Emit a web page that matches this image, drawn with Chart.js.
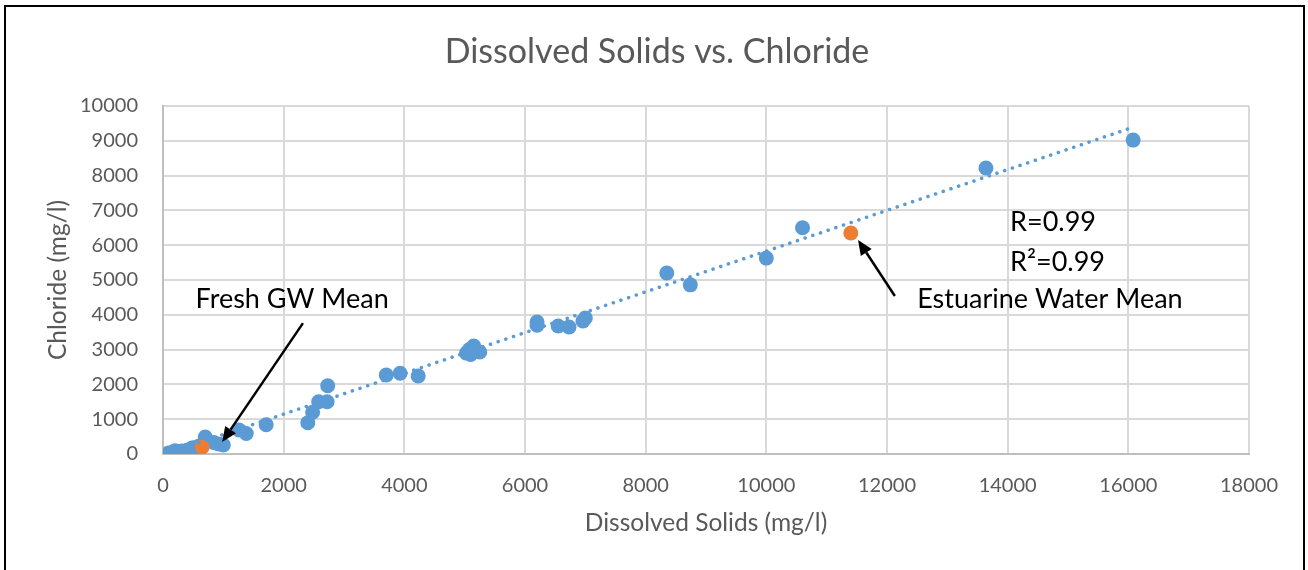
<!DOCTYPE html>
<html>
<head>
<meta charset="utf-8">
<script src="https://cdn.jsdelivr.net/npm/chart.js@4"></script>
<style>
  html, body { margin: 0; padding: 0; background: #fff; overflow: hidden; }
  #wrap { position: relative; width: 1308px; height: 570px; }
  #frame { position: absolute; left: 4px; top: 5px; width: 1297px; height: 600px; border: 2px solid #000; pointer-events: none; }
</style>
</head>
<body>
<div id="wrap">
  <canvas id="chart"></canvas>
  <div id="frame"></div>
</div>
<script>
// ─── Data (mg/l) ───────────────────────────────────
const tdsSamples = [90, 150, 200, 230, 310, 350, 400, 470, 480, 520, 560, 600, 700, 840, 920, 1000,
  1260, 1380, 1710, 2400, 2480, 2580, 2720, 2730, 3700, 3930, 4230,
  5030, 5080, 5150, 5250, 5100, 6200, 6200, 6550, 6730, 6960, 7000,
  8350, 8740, 10000, 10600, 13640, 16080];
const clSamples = [30, 45, 90, 60, 85, 50, 110, 40, 170, 180, 120, 230, 490, 330, 290, 260,
  690, 590, 840, 900, 1200, 1500, 1500, 1960, 2270, 2320, 2240,
  2900, 3000, 3100, 2930, 2860, 3790, 3700, 3680, 3650, 3820, 3910,
  5200, 4860, 5630, 6500, 8220, 9020];

const tdsMeans = [650, 11400];     // Fresh GW mean, Estuarine water mean
const clMeans = [200, 6350];

const trendX = [85, 16080];
const trendY = [25, 9390];

const X_TICKS = [0, 2000, 4000, 6000, 8000, 10000, 12000, 14000, 16000, 18000];
const Y_TICKS = [0, 1000, 2000, 3000, 4000, 5000, 6000, 7000, 8000, 9000, 10000];

const TITLE = 'Dissolved Solids vs. Chloride';
const BLUE = '#5b9bd5';
const ORANGE = '#ed7d31';
const GREY = '#595959';
const FONT = 'Lato';

const toPts = (xs, ys) => xs.map((x, i) => ({ x, y: ys[i] }));

// ─── Annotations (positions in data units) ─────────
const notes = [
  { text: 'Fresh GW Mean', x: 2140, y: 4450, align: 'center' },
  { text: 'Estuarine Water Mean', x: 14700, y: 4450, align: 'center' },
  { text: 'R=0.99', x: 14040, y: 6670, align: 'left' },
  { text: 'R²=0.99', x: 14040, y: 5520, align: 'left' }
];
const arrows = [
  { from: [2320, 3760], to: [980, 345] },
  { from: [12130, 4540], to: [11520, 6150] }
];

function drawArrow(ctx, x1, y1, x2, y2) {
  const ang = Math.atan2(y2 - y1, x2 - x1);
  const head = 15, half = 6.5;
  const bx = x2 - head * Math.cos(ang), by = y2 - head * Math.sin(ang);
  ctx.beginPath();
  ctx.moveTo(x1, y1);
  ctx.lineTo(bx, by);
  ctx.lineWidth = 2.5;
  ctx.strokeStyle = '#000';
  ctx.stroke();
  ctx.beginPath();
  ctx.moveTo(x2, y2);
  ctx.lineTo(bx + half * Math.sin(ang), by - half * Math.cos(ang));
  ctx.lineTo(bx - half * Math.sin(ang), by + half * Math.cos(ang));
  ctx.closePath();
  ctx.fillStyle = '#000';
  ctx.fill();
}

// title centred on the whole frame, plus the callouts
const notesPlugin = {
  id: 'notes',
  afterDraw(chart) {
    const { ctx, scales: { x, y } } = chart;
    ctx.save();
    ctx.font = '34px ' + FONT;
    ctx.fillStyle = GREY;
    ctx.textAlign = 'center';
    ctx.textBaseline = 'middle';
    ctx.fillText(TITLE, chart.width / 2 + 3, 52);

    arrows.forEach(a => drawArrow(ctx,
      x.getPixelForValue(a.from[0]), y.getPixelForValue(a.from[1]),
      x.getPixelForValue(a.to[0]), y.getPixelForValue(a.to[1])));
    ctx.font = '27px ' + FONT;
    ctx.fillStyle = '#000';
    notes.forEach(n => {
      ctx.textAlign = n.align;
      ctx.fillText(n.text, x.getPixelForValue(n.x), y.getPixelForValue(n.y));
    });
    ctx.restore();
  }
};

new Chart(document.getElementById('chart'), {
  type: 'scatter',
  data: {
    datasets: [
      {
        label: 'Linear trend',
        type: 'line',
        data: toPts(trendX, trendY),
        borderColor: BLUE,
        borderWidth: 3.5,
        borderDash: [0.1, 8],
        borderCapStyle: 'round',
        pointRadius: 0,
        fill: false
      },
      {
        label: 'Means',
        data: toPts(tdsMeans, clMeans),
        backgroundColor: ORANGE,
        borderWidth: 0,
        pointRadius: 7.5
      },
      {
        label: 'Samples',
        data: toPts(tdsSamples, clSamples),
        backgroundColor: BLUE,
        borderWidth: 0,
        pointRadius: 7.5
      }
    ]
  },
  options: {
    responsive: true,
    maintainAspectRatio: false,
    animation: false,
    layout: { padding: { left: 0, right: 59, top: 106, bottom: 0 } },
    plugins: {
      legend: { display: false },
      tooltip: { enabled: false },
      title: { display: false }
    },
    scales: {
      x: {
        type: 'linear',
        min: 0, max: 18000,
        afterBuildTicks: s => { s.ticks = X_TICKS.map(v => ({ value: v })); },
        afterFit: s => { s.height = 116; },
        grid: { color: '#d9d9d9', lineWidth: 2, drawTicks: false },
        border: { color: '#bfbfbf', width: 2 },
        ticks: { color: GREY, font: { family: FONT, size: 20 }, padding: 20, callback: v => String(v) },
        title: {
          display: true, text: 'Dissolved Solids (mg/l)', color: GREY,
          font: { family: FONT, size: 24.5 }, padding: { top: 0, bottom: 32 }
        }
      },
      y: {
        type: 'linear',
        min: 0, max: 10000,
        afterBuildTicks: s => { s.ticks = Y_TICKS.map(v => ({ value: v })); },
        afterFit: s => { s.width = 163; },
        grid: { color: '#d9d9d9', lineWidth: 2, drawTicks: false },
        border: { color: '#bfbfbf', width: 2 },
        ticks: { color: GREY, font: { family: FONT, size: 20 }, padding: 25, callback: v => String(v) },
        title: {
          display: true, text: 'Chloride (mg/l)', color: GREY,
          font: { family: FONT, size: 24.5 }, padding: { top: 43, bottom: 0 }
        }
      }
    }
  },
  plugins: [notesPlugin]
});
</script>
</body>
</html>
